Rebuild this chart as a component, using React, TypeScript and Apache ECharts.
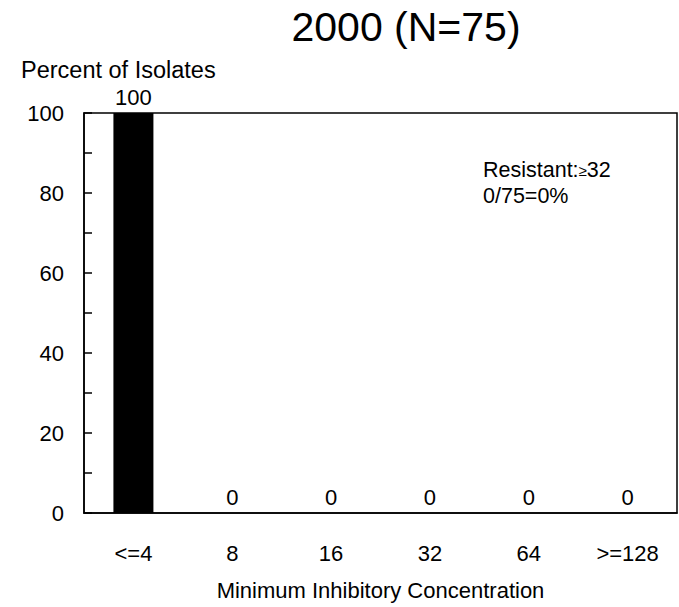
import React, { useEffect, useRef } from "react";
import * as echarts from "echarts";

const categories = ["<=4", "8", "16", "32", "64", ">=128"];
const percentValues = [100, 0, 0, 0, 0, 0];
const titleText = "2000 (N=75)";
const yAxisTitle = "Percent of Isolates";
const xAxisTitle = "Minimum Inhibitory Concentration";
const noteLine1 = "Resistant:";
const noteSymbol = "≥";
const noteBreakpoint = "32";
const noteLine2 = "0/75=0%";

const FONT = "'Liberation Sans', Arial, sans-serif";

export default function App() {
  const ref = useRef<HTMLDivElement>(null);

  useEffect(() => {
    document.body.style.margin = "0";
    if (!ref.current) return;
    const chart = echarts.init(ref.current, null, { renderer: "svg" });
    chart.setOption({
      animation: false,
      backgroundColor: "#ffffff",
      textStyle: { fontFamily: FONT, color: "#000" },
      title: {
        text: titleText,
        left: 401,
        top: 1,
        textAlign: "center",
        textStyle: { fontFamily: FONT, fontSize: 41, fontWeight: "normal", color: "#000" },
      },
      grid: {
        left: 84,
        right: 2,
        top: 113,
        bottom: 94,
        show: true,
        borderColor: "#000",
        borderWidth: 1.5,
        backgroundColor: "transparent",
      },
      xAxis: {
        type: "category",
        data: categories,
        axisLine: { show: true, lineStyle: { color: "#000", width: 1.5 } },
        axisTick: { show: false },
        axisLabel: { color: "#000", fontFamily: FONT, fontSize: 22, margin: 29 },
        name: xAxisTitle,
        nameLocation: "middle",
        nameGap: 66,
        nameTextStyle: { color: "#000", fontFamily: FONT, fontSize: 22 },
        splitLine: { show: false },
      },
      yAxis: {
        type: "value",
        min: 0,
        max: 100,
        interval: 10,
        axisLine: { show: true, lineStyle: { color: "#000", width: 1.5 } },
        axisTick: { show: true, inside: true, length: 8, lineStyle: { color: "#000", width: 1.5 } },
        axisLabel: {
          color: "#000",
          fontFamily: FONT,
          fontSize: 22,
          margin: 20,
          formatter: (v: number) => (v % 20 === 0 ? String(v) : ""),
        },
        splitLine: { show: false },
      },
      graphic: [
        {
          type: "text",
          left: 21,
          top: 58,
          style: { text: yAxisTitle, fontFamily: FONT, fontSize: 23.5, fill: "#000" },
        },
        {
          type: "text",
          left: 483,
          top: 157,
          style: {
            text: `${noteLine1}{s|${noteSymbol}}${noteBreakpoint}\n${noteLine2}`,
            fontFamily: FONT,
            fontSize: 21.5,
            lineHeight: 26,
            fill: "#000",
            rich: {
              s: { fontFamily: FONT, fontSize: 15, fill: "#000" },
            },
          },
        },
      ],
      series: [
        {
          type: "bar",
          data: percentValues,
          barWidth: 40,
          itemStyle: { color: "#000" },
          label: {
            show: true,
            position: "top",
            distance: 5,
            color: "#000",
            fontFamily: FONT,
            fontSize: 22,
          },
        },
      ],
    });
    return () => chart.dispose();
  }, []);

  return <div ref={ref} style={{ width: 679, height: 607 }} />;
}
